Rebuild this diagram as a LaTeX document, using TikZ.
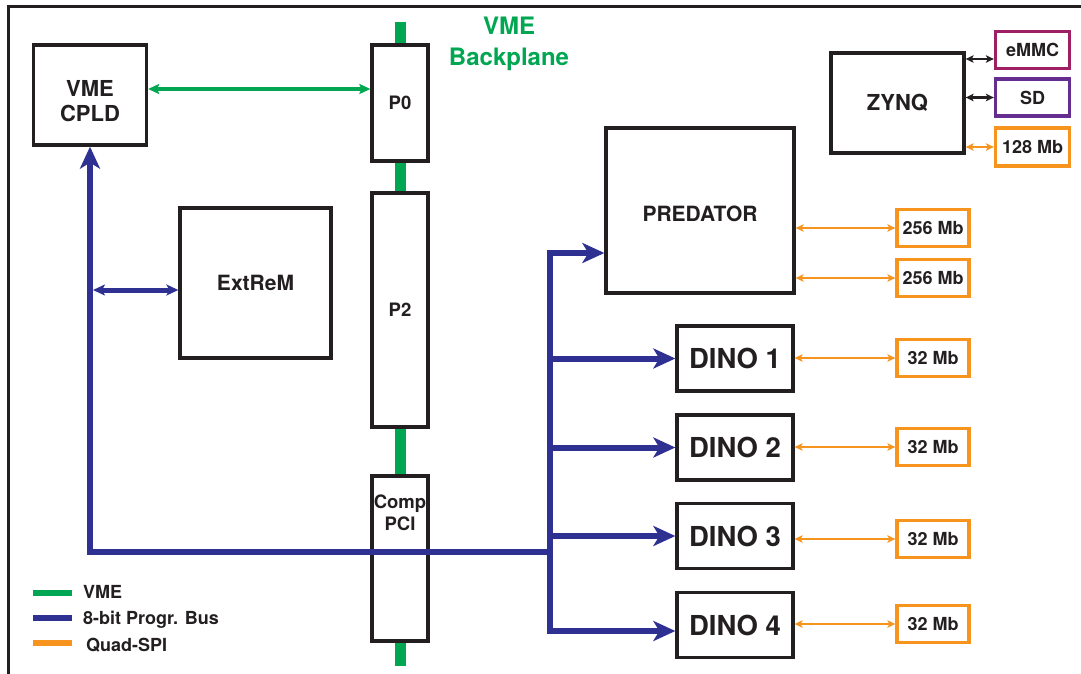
\documentclass[tikz,border=0pt]{standalone}
\usepackage{fontspec}
\setmainfont{TeX Gyre Heros}
\usetikzlibrary{arrows.meta}
\definecolor{vmegreen}{HTML}{00A651}
\definecolor{busblue}{HTML}{2E3192}
\definecolor{qorange}{HTML}{F7941D}
\definecolor{emmccol}{HTML}{9E1F63}
\definecolor{sdcol}{HTML}{662D91}
\definecolor{ink}{HTML}{231F20}
\tikzset{
  box/.style={draw=ink, line width=3.3pt, fill=white, text=ink, inner sep=0pt, align=center},
  membox/.style={box, draw=qorange, minimum width=72pt, minimum height=37pt, font=\fontsize{18}{20}\selectfont\bfseries},
  dinobox/.style={box, minimum width=116pt, minimum height=65pt, font=\fontsize{27.5}{30}\selectfont\bfseries},
  connbox/.style={box, minimum width=56pt, font=\fontsize{18.5}{22}\selectfont\bfseries},
  bus/.style={busblue, line width=6pt},
  bustip/.tip={Stealth[length=22pt,width=20pt,inset=6pt]},
  smallbus/.style={busblue, line width=5pt, {Stealth[length=12pt,width=11pt,inset=3pt]}-{Stealth[length=12pt,width=11pt,inset=3pt]}},
  vmeline/.style={vmegreen, line width=4.8pt, {Stealth[length=11pt,width=10pt,inset=2pt]}-{Stealth[length=11pt,width=10pt,inset=2pt]}},
  qspi/.style={qorange, line width=2.8pt, {Stealth[length=8pt,width=7.5pt,inset=2pt]}-{Stealth[length=8pt,width=7.5pt,inset=2pt]}},
  blk/.style={ink, line width=2.2pt, {Stealth[length=8pt,width=7.5pt,inset=2pt]}-{Stealth[length=8pt,width=7.5pt,inset=2pt]}},
  legtext/.style={anchor=west, text=ink, inner sep=0pt, font=\fontsize{18}{20}\selectfont\bfseries},
}
\begin{document}
\begin{tikzpicture}[x=1pt,y=-1pt]
\useasboundingbox (0,0) rectangle (1081,674);
% frame
\draw[ink, line width=3pt] (8,680) -- (8,7) -- (1090,7);
% VME backplane
\coordinate (bpTop) at (400,22);
\coordinate (bpBot) at (400,666);
\draw[vmegreen, line width=11pt] (bpTop) -- (bpBot);
\node[text=vmegreen, align=center, font=\fontsize{24}{31}\selectfont\bfseries] (bplabel) at (509,43.5) {VME\\Backplane};
% connectors
\node[connbox, minimum height=116pt] (p0) at (400,103) {P0};
\node[connbox, minimum height=234pt] (p2) at (400,310) {P2};
\node[connbox, minimum height=165pt] (pci) at (400,558.5) {};
\node[text=ink, align=center, inner sep=0pt, font=\fontsize{18.5}{22}\selectfont\bfseries] (pcitext) at (400,513) {Comp\\PCI};
% main boxes
\node[box, minimum width=113pt, minimum height=100pt] (cpld) at (90,95) {};
\node[text=ink, align=center, inner sep=0pt, font=\fontsize{22}{25}\selectfont\bfseries] (cpldtext) at (90,101) {VME\\CPLD};
\node[box, minimum width=151pt, minimum height=150pt, font=\fontsize{21}{24}\selectfont\bfseries] (extrem) at (255.5,283) {ExtReM};
\node[box, minimum width=188pt, minimum height=165pt] (predator) at (700,210.5) {};
\node[text=ink, inner sep=0pt, font=\fontsize{21}{24}\selectfont\bfseries] (predtext) at (700,214) {PREDATOR};
\node[dinobox] (dino1) at (735,358.5) {DINO 1};
\node[dinobox] (dino2) at (735,447.5) {DINO 2};
\node[dinobox] (dino3) at (735,536) {DINO 3};
\node[dinobox] (dino4) at (735,625) {DINO 4};
\node[box, minimum width=133pt, minimum height=100pt, font=\fontsize{22}{25}\selectfont\bfseries] (zynq) at (897.5,103) {ZYNQ};
% memories
\node[membox] (m256a) at (933,228) {256 Mb};
\node[membox] (m256b) at (933,278) {256 Mb};
\node[membox] (m32a) at (933,358) {32 Mb};
\node[membox] (m32b) at (933,447) {32 Mb};
\node[membox] (m32c) at (933,539) {32 Mb};
\node[membox] (m32d) at (933,624) {32 Mb};
\node[membox, draw=emmccol, minimum width=74pt] (emmc) at (1032.5,50) {eMMC};
\node[membox, draw=sdcol, minimum width=74pt] (sd) at (1032.5,97.5) {SD};
\node[membox, minimum width=74pt, minimum height=38pt] (m128) at (1032.5,147) {128 Mb};
% VME link
\coordinate (vmey) at (0,89);
\draw[vmeline] (cpld.east |- vmey) -- (p0.west |- vmey);
% programming bus
\coordinate (bl) at (90,552);
\coordinate (bj) at (550,552);
\coordinate (pa) at (550,253);
\coordinate (pb) at (550,631);
\draw[bus, -{bustip}] (bj) -- (bl) -- (cpld.south);
\draw[bus, {bustip}-{bustip}, line join=miter] (predator.west |- pa) -- (pa) -- (pb) -- (dino4.west |- pb);
\draw[bus, -{bustip}] (pa |- dino1.west) -- (dino1.west);
\draw[bus, -{bustip}] (pa |- dino2.west) -- (dino2.west);
\draw[bus, -{bustip}] (pa |- dino3.west) -- (dino3.west);
\coordinate (ex) at (93,290);
\draw[smallbus] (ex) -- (extrem.west |- ex);
% quad-SPI
\draw[qspi] (predator.east |- m256a) -- (m256a.west);
\draw[qspi] (predator.east |- m256b) -- (m256b.west);
\draw[qspi] (dino1.east |- m32a) -- (m32a.west);
\draw[qspi] (dino2.east |- m32b) -- (m32b.west);
\draw[qspi] (dino3.east |- m32c) -- (m32c.west);
\draw[qspi] (dino4.east |- m32d) -- (m32d.west);
\draw[qspi] (zynq.east |- m128) -- (m128.west);
\coordinate (ey) at (0,59);
\draw[blk] (zynq.east |- ey) -- (emmc.west |- ey);
\draw[blk] (zynq.east |- sd) -- (sd.west);
% legend
\node[legtext] (lg1) at (83,592) {VME};
\node[legtext] (lg2) at (83,620) {8-bit Progr. Bus};
\node[legtext] (lg3) at (86,645) {Quad-SPI};
\coordinate (la1) at (33,593);
\coordinate (lb1) at (72,593);
\coordinate (la2) at (33,618);
\coordinate (lb2) at (72,618);
\coordinate (la3) at (33,643);
\coordinate (lb3) at (72,643);
\draw[vmegreen, line width=6pt] (la1) -- (lb1);
\draw[busblue, line width=6pt] (la2) -- (lb2);
\draw[qorange, line width=6pt] (la3) -- (lb3);
\end{tikzpicture}
\end{document}
